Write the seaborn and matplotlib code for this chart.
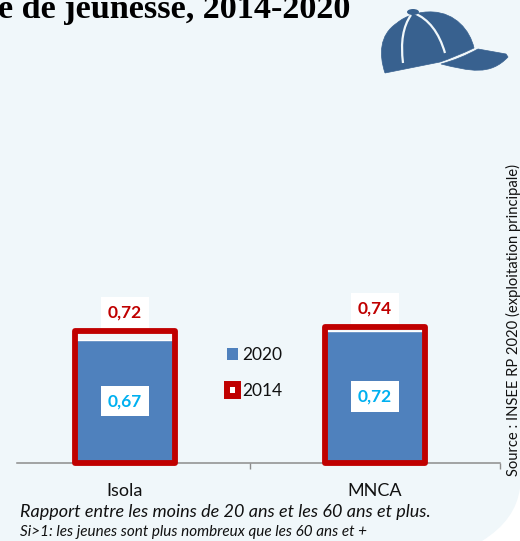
import pandas as pd
import matplotlib.pyplot as plt
import seaborn as sns
from matplotlib.patches import PathPatch, Patch, Ellipse
from matplotlib.path import Path

categories = ['Isola', 'MNCA']
values_2020 = [0.67, 0.72]
values_2014 = [0.72, 0.74]

BG = '#F0F7FA'
BLUE = '#4F81BD'
RED = '#C00000'
CYAN = '#00B0F0'
HAT = '#38618F'
AXIS = '#8C8C8C'
W, H = 520, 541

sns.set_theme(style='white')
plt.rcParams['font.family'] = ['Lato', 'DejaVu Sans']

df = pd.DataFrame({'territoire': categories, '2020': values_2020, '2014': values_2014})

fig = plt.figure(figsize=(W / 100, H / 100), dpi=100, facecolor='white')

# full-figure layer in pixel coordinates, for background, title and icon
bg = fig.add_axes([0, 0, 1, 1], zorder=0)
bg.set_xlim(0, W)
bg.set_ylim(H, 0)
bg.axis('off')

# pale panel with rounded bottom right corner
panel = Path(
    [(0, 0), (W, 0), (W, 488), (516, 520), (482, H), (0, H), (0, 0)],
    [Path.MOVETO, Path.LINETO, Path.LINETO, Path.CURVE3, Path.CURVE3, Path.LINETO, Path.CLOSEPOLY],
)
bg.add_patch(PathPatch(panel, fc=BG, ec='none'))

bg.text(350, 18, 'e de jeunesse, 2014-2020', ha='right', va='baseline', fontsize=24.6,
        fontweight='bold', family='Liberation Serif', color='black', clip_on=False)

# cap icon
crown = Path(
    [(385, 73), (379, 55), (379, 35), (397, 23), (405, 16), (420, 11), (433, 12),
     (455, 13), (470, 30), (474, 48), (455, 57), (440, 62), (385, 73)],
    [Path.MOVETO, Path.CURVE4, Path.CURVE4, Path.CURVE4, Path.CURVE4, Path.CURVE4, Path.CURVE4,
     Path.CURVE4, Path.CURVE4, Path.CURVE4, Path.CURVE3, Path.CURVE3, Path.LINETO],
)
visor = Path(
    [(478, 49), (506, 54), (508, 57), (490, 76), (470, 71), (441, 64), (460, 59), (478, 49)],
    [Path.MOVETO, Path.LINETO, Path.LINETO, Path.CURVE4, Path.CURVE4, Path.CURVE4, Path.CURVE3, Path.CURVE3],
)
seam1 = Path([(411, 15), (399, 32), (403, 63)], [Path.MOVETO, Path.CURVE3, Path.CURVE3])
seam2 = Path([(414, 13), (436, 22), (445, 53)], [Path.MOVETO, Path.CURVE3, Path.CURVE3])
bg.add_patch(PathPatch(crown, fc=HAT, ec=HAT, lw=0.5))
bg.add_patch(PathPatch(visor, fc=HAT, ec=HAT, lw=0.5))
bg.add_patch(PathPatch(seam1, fc='none', ec=BG, lw=1.6))
bg.add_patch(PathPatch(seam2, fc='none', ec=BG, lw=1.6))
bg.add_patch(Ellipse((413, 12), 12, 6, fc=HAT, ec='none'))

bg.text(20, 512, 'Rapport entre les moins de 20 ans et les 60 ans et plus.', fontsize=13,
        style='italic', va='center', color='#111111')
bg.text(20, 532, 'Si>1: les jeunes sont plus nombreux que les 60 ans et +', fontsize=11,
        style='italic', va='center', color='#111111')
bg.text(513, 476, 'Source : INSEE RP 2020 (exploitation principale)', rotation=90, fontsize=10.6,
        ha='center', va='bottom', color='#111111')

# chart axes: 500 px wide, baseline at y=462.5
ax = fig.add_axes([0, (H - 462.5) / H, 500 / W, 366 / H], zorder=1)
ax.patch.set_alpha(0)

sns.barplot(data=df, x='territoire', y='2020', color=BLUE, width=0.4, saturation=1, ax=ax)
sns.barplot(data=df, x='territoire', y='2014', fill=False, color=RED, width=0.4, saturation=1, ax=ax)
bars_2020 = ax.containers[0]
bars_2014 = ax.containers[1]
for bar in bars_2014:
    bar.set_edgecolor(RED)
    bar.set_linewidth(4.2)
    bar.set_joinstyle('round')
    bar.set_zorder(3)
    bar.set_clip_on(False)

ax.set_xlim(-0.5, 1.5)
ax.set_ylim(0, 2)
ax.set_xlabel('')
ax.set_ylabel('')
ax.set_yticks([])

box = dict(fc='white', ec='none', boxstyle='square,pad=0.42')
ax.bar_label(bars_2020, labels=[f'{v:.2f}'.replace('.', ',') for v in values_2020], label_type='center',
             color=CYAN, fontweight='bold', fontsize=12.5, bbox=box, zorder=5)
ax.bar_label(bars_2014, labels=[f'{v:.2f}'.replace('.', ',') for v in values_2014], label_type='edge',
             padding=7.5, color=RED, fontweight='bold', fontsize=12.5, bbox=box, zorder=5)

sns.despine(ax=ax, left=True, right=True, top=True)
ax.spines['bottom'].set_color(AXIS)
ax.spines['bottom'].set_linewidth(1.1)
ax.spines['bottom'].set_bounds(-0.432, 1.5)
ax.set_xticks([0, 1])
ax.set_xticks([0.5, 1.5], minor=True)
ax.tick_params(axis='x', which='major', length=0, pad=14.5, labelsize=13, labelcolor='#111111')
ax.tick_params(axis='x', which='minor', length=4.5, width=1, color=AXIS, bottom=True)

handles = [Patch(fc=BLUE, ec='none'), Patch(fc='white', ec=RED, lw=4.3, joinstyle='round')]
ax.legend(handles, ['2020', '2014'], loc='center left', bbox_to_anchor=(227 / 500, 0.244),
          frameon=False, fontsize=12.5, handlelength=0.65, handleheight=0.65, handletextpad=0.2,
          labelspacing=1.15, borderpad=0, borderaxespad=0, labelcolor='#111111')

fig.savefig('out.png', dpi=100, facecolor=fig.get_facecolor())
